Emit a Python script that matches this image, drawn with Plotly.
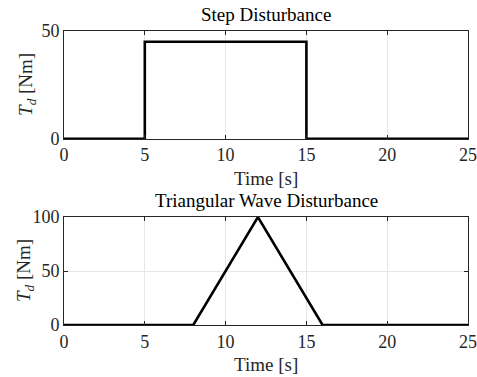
import plotly.graph_objects as go
from plotly.subplots import make_subplots

# step disturbance (s, Nm)
step_t = [0, 5, 5, 15, 15, 25]
step_T = [0, 0, 45, 45, 0, 0]

# triangular wave disturbance (s, Nm)
tri_t = [0, 8, 12, 16, 25]
tri_T = [0, 0, 100, 0, 0]

x_ticks = [0, 5, 10, 15, 20, 25]
titles = ["Step Disturbance", "Triangular Wave Disturbance"]
FONT = "Liberation Serif"
AX = "#262626"
SIZE = 19

fig = make_subplots(rows=2, cols=1, vertical_spacing=0.266)

fig.add_trace(go.Scatter(x=step_t, y=step_T, mode="lines",
                         line=dict(color="black", width=2.6)), row=1, col=1)
fig.add_trace(go.Scatter(x=tri_t, y=tri_T, mode="lines",
                         line=dict(color="black", width=2.6)), row=2, col=1)

axis_style = dict(
    showline=True, mirror="ticks", linecolor=AX, linewidth=1,
    ticks="inside", ticklen=4, tickcolor=AX,
    showgrid=True, gridcolor="#e6e6e6", gridwidth=1,
    zeroline=False, automargin=False,
    tickfont=dict(family=FONT, size=18, color=AX),  # 18 so "25" still fits at the right edge
)

fig.update_xaxes(range=[0, 25], tickvals=x_ticks, **axis_style)
fig.update_yaxes(**axis_style)
fig.update_yaxes(range=[0, 50], tickvals=[0, 50], row=1, col=1)
fig.update_yaxes(range=[0, 100], tickvals=[0, 50, 100], row=2, col=1)

# titles and axis labels as annotations, placed against each axes box
for i, title in enumerate(titles):
    xr = "x domain" if i == 0 else "x2 domain"
    yr = "y domain" if i == 0 else "y2 domain"
    fig.add_annotation(text=title, x=0.5, y=1.0, xref=xr, yref=yr,
                       yanchor="bottom", showarrow=False, yshift=4,
                       font=dict(family=FONT, size=SIZE, color="black"))
    fig.add_annotation(text="Time [s]", x=0.5, y=0.0, xref=xr, yref=yr,
                       yanchor="top", showarrow=False, yshift=-27,
                       font=dict(family=FONT, size=SIZE, color=AX))
    fig.add_annotation(text="<i>T<sub>d</sub></i> [Nm]", x=0.0, y=0.5, xref=xr, yref=yr,
                       xanchor="center", textangle=-90, showarrow=False,
                       xshift=-37 if i == 0 else -39,
                       font=dict(family=FONT, size=SIZE, color=AX))

fig.update_layout(
    width=477, height=377,
    margin=dict(l=64, r=9, t=31, b=52),
    font=dict(family=FONT),
    showlegend=False,
    plot_bgcolor="white", paper_bgcolor="white",
)

fig.write_html("out.html", config={"displayModeBar": False},
               post_script="document.body.style.margin='0';")
